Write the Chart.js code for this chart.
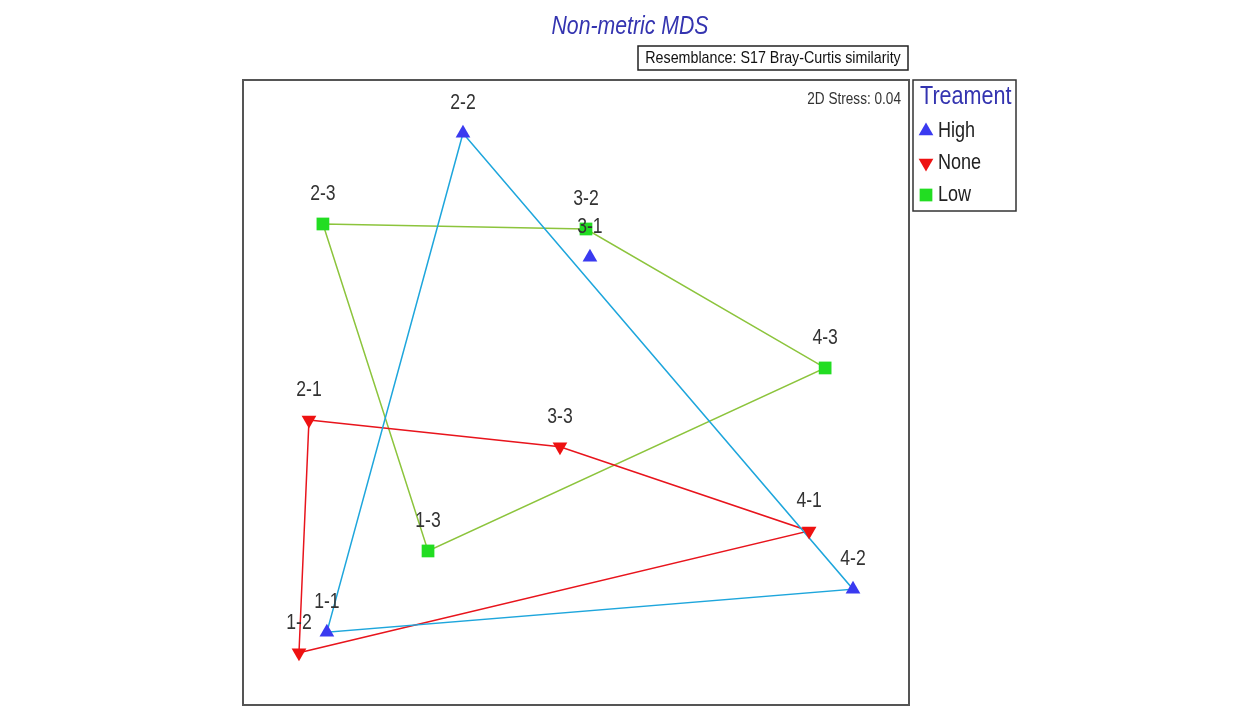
<!DOCTYPE html>
<html>
<head>
<meta charset="utf-8">
<script src="https://cdn.jsdelivr.net/npm/chart.js@4.4.1/dist/chart.umd.min.js"></script>
<style>
  html, body { margin: 0; padding: 0; background: #fff; }
  #wrap { width: 1244px; height: 708px; position: relative; }
</style>
</head>
<body>
<div id="wrap"><canvas id="mds" width="1244" height="708"></canvas></div>
<script>
/* ---------- data (MDS coordinates) ---------- */
const highNames = ["2-2", "3-1", "4-2", "1-1"];
const highX = [-0.543, 0.067, 1.331, -1.197];
const highY = [1.245, 0.651, -0.940, -1.146];

const noneNames = ["2-1", "3-3", "4-1", "1-2"];
const noneX = [-1.283, -0.077, 1.120, -1.331];
const noneY = [-0.129, -0.258, -0.661, -1.245];

const lowNames = ["2-3", "3-2", "4-3", "1-3"];
const lowX = [-1.216, 0.048, 1.197, -0.711];
const lowY = [0.810, 0.786, 0.120, -0.757];

// hull order (indices into the arrays above)
const highHull = [0, 2, 3, 0];
const noneHull = [0, 1, 2, 3, 0];
const lowHull = [0, 1, 2, 3, 0];

const groupNames = ["High", "None", "Low"];

/* ---------- helpers ---------- */
function pts(xs, ys) {
    return xs.map((x, i) => ({ x: x, y: ys[i] }));
}
function hull(xs, ys, idx) {
    return idx.map(i => ({ x: xs[i], y: ys[i] }));
}

const C_HIGH = "#3a3af0";
const C_NONE = "#ee1111";
const C_LOW = "#22dd22";
const FONT = "'Liberation Sans', Arial, sans-serif";

// no narrow font installed -> squeeze the regular one
function narrowText(ctx, text, x, y, sx) {
    ctx.save();
    ctx.translate(x, y);
    ctx.scale(sx, 1);
    ctx.fillText(text, 0, 0);
    ctx.restore();
}

const boxPlugin = {
    id: "boxPlugin",
    afterDraw(chart) {
        const ctx = chart.ctx;
        const a = chart.chartArea;
        ctx.save();
        // plot frame
        ctx.strokeStyle = "#555";
        ctx.lineWidth = 2;
        ctx.strokeRect(a.left, a.top, a.right - a.left, a.bottom - a.top - 1);

        // title
        ctx.fillStyle = "#3434b0";
        ctx.font = "italic 25px " + FONT;
        ctx.textAlign = "center";
        ctx.textBaseline = "middle";
        narrowText(ctx, "Non-metric MDS", 630, 27, 0.85);

        // resemblance box
        ctx.lineWidth = 1.5;
        ctx.strokeStyle = "#222";
        ctx.strokeRect(638, 46, 270, 24);
        ctx.fillStyle = "#111";
        ctx.font = "17px " + FONT;
        narrowText(ctx, "Resemblance: S17 Bray-Curtis similarity", 773, 58, 0.84);

        // stress
        ctx.textAlign = "right";
        ctx.fillStyle = "#333";
        ctx.font = "16px " + FONT;
        narrowText(ctx, "2D Stress: 0.04", 901, 100, 0.85);

        // legend
        ctx.strokeStyle = "#333";
        ctx.lineWidth = 1.5;
        ctx.strokeRect(913, 80, 103, 131);
        ctx.textAlign = "left";
        ctx.fillStyle = "#3434b0";
        ctx.font = "26px " + FONT;
        narrowText(ctx, "Treament", 920, 97, 0.83);

        const marks = chart.data.datasets.filter(d => d.legendRow !== undefined);
        for (const d of marks) {
            const y = 131 + d.legendRow * 32;
            ctx.fillStyle = d.backgroundColor;
            Chart.helpers.drawPoint(ctx, {
                pointStyle: d.pointStyle,
                radius: d.pointRadius,
                rotation: d.rotation || 0,
                borderWidth: 0
            }, 926, y);
            ctx.fillStyle = "#222";
            ctx.font = "22px " + FONT;
            narrowText(ctx, d.label, 938, y, 0.82);
        }
        ctx.restore();
    },
    afterDatasetsDraw(chart) {
        // sample labels above points
        const ctx = chart.ctx;
        ctx.save();
        ctx.fillStyle = "#333";
        ctx.font = "22px " + FONT;
        ctx.textAlign = "center";
        ctx.textBaseline = "middle";
        chart.data.datasets.forEach((d, di) => {
            if (!d.names) return;
            const meta = chart.getDatasetMeta(di);
            meta.data.forEach((el, i) => {
                narrowText(ctx, d.names[i], el.x, el.y - 30, 0.8);
            });
        });
        ctx.restore();
    }
};

new Chart(document.getElementById("mds"), {
    type: "scatter",
    data: {
        datasets: [
            {
                label: "High hull",
                data: hull(highX, highY, highHull),
                showLine: true,
                borderColor: "#1ea6dc",
                borderWidth: 1.5,
                pointRadius: 0,
                order: 3
            },
            {
                label: "None hull",
                data: hull(noneX, noneY, noneHull),
                showLine: true,
                borderColor: "#e8141c",
                borderWidth: 1.5,
                pointRadius: 0,
                order: 3
            },
            {
                label: "Low hull",
                data: hull(lowX, lowY, lowHull),
                showLine: true,
                borderColor: "#8cc43c",
                borderWidth: 1.5,
                pointRadius: 0,
                order: 3
            },
            {
                label: groupNames[0],
                names: highNames,
                legendRow: 0,
                data: pts(highX, highY),
                pointStyle: "triangle",
                pointRadius: 8.5,
                backgroundColor: C_HIGH,
                borderWidth: 0,
                order: 1
            },
            {
                label: groupNames[1],
                names: noneNames,
                legendRow: 1,
                data: pts(noneX, noneY),
                pointStyle: "triangle",
                rotation: 180,
                pointRotation: 180,
                pointRadius: 8.5,
                backgroundColor: C_NONE,
                borderWidth: 0,
                order: 1
            },
            {
                label: groupNames[2],
                names: lowNames,
                legendRow: 2,
                data: pts(lowX, lowY),
                pointStyle: "rect",
                pointRadius: 9,
                backgroundColor: C_LOW,
                borderWidth: 0,
                order: 1
            }
        ]
    },
    options: {
        responsive: false,
        animation: false,
        layout: { autoPadding: false, padding: { left: 243, right: 335, top: 80, bottom: 2 } },
        plugins: {
            legend: { display: false },
            tooltip: { enabled: false },
            title: { display: false }
        },
        scales: {
            x: { type: "linear", min: -1.6, max: 1.6, display: false },
            y: { type: "linear", min: -1.5, max: 1.5, display: false }
        }
    },
    plugins: [boxPlugin]
});
</script>
</body>
</html>
